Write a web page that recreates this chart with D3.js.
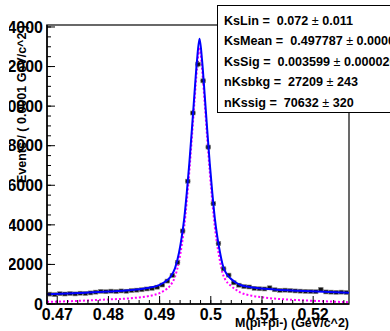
<!DOCTYPE html>
<html>
<head>
<meta charset="utf-8">
<script src="https://cdn.jsdelivr.net/npm/d3@7/dist/d3.min.js"></script>
<style>
  html, body { margin: 0; padding: 0; background: #fff; }
  svg { display: block; font-family: "Liberation Sans", Arial, sans-serif; }
</style>
</head>
<body>
<div id="chart"></div>
<script>
// histogram bins (centre in GeV/c^2) and entries
var binCenters = [0.4685, 0.4695, 0.4705, 0.4715, 0.4725, 0.4735, 0.4745, 0.4755, 0.4765, 0.4775,
    0.4785, 0.4795, 0.4805, 0.4815, 0.4825, 0.4835, 0.4845, 0.4855, 0.4865, 0.4875,
    0.4885, 0.4895, 0.4905, 0.4915, 0.4925, 0.4935, 0.4945, 0.4955, 0.4965, 0.4975,
    0.4985, 0.4995, 0.5005, 0.5015, 0.5025, 0.5035, 0.5045, 0.5055, 0.5065, 0.5075,
    0.5085, 0.5095, 0.5105, 0.5115, 0.5125, 0.5135, 0.5145, 0.5155, 0.5165, 0.5175,
    0.5185, 0.5195, 0.5205, 0.5215, 0.5225, 0.5235, 0.5245, 0.5255, 0.5265];
var binCounts = [500, 470, 520, 505, 530, 510, 545, 530, 560, 600,
    640, 620, 650, 630, 660, 645, 680, 700, 720, 760,
    790, 850, 960, 1158, 1445, 2100, 3691, 6208, 9653, 12120,
    11279, 7931, 5070, 3061, 1777, 1460, 1072, 950, 880, 860,
    790, 770, 760, 820, 720, 690, 700, 680, 660, 650,
    640, 630, 620, 740, 610, 600, 590, 600, 580];

// fit curves sampled along the mass axis
var fitMass = [0.468, 0.472, 0.476, 0.480, 0.484, 0.486, 0.488, 0.490, 0.491, 0.492,
    0.493, 0.4938, 0.4943, 0.4948, 0.4953, 0.4958, 0.4963, 0.4968, 0.4973, 0.4978,
    0.4983, 0.4988, 0.4993, 0.4998, 0.5003, 0.5008, 0.5013, 0.5018, 0.5023, 0.5028,
    0.5038, 0.5048, 0.5058, 0.5078, 0.510, 0.513, 0.517, 0.522, 0.527];
var fitTotal = [488, 525, 575, 630, 690, 745, 820, 970, 1110, 1330,
    1800, 2600, 3350, 4300, 5600, 7100, 8800, 10600, 12300, 13400,
    12300, 10600, 8800, 7100, 5600, 4300, 3350, 2600, 2000, 1650,
    1300, 1100, 960, 850, 780, 720, 670, 615, 570];
var fitSignal = [108, 138, 181, 230, 283, 334, 406, 553, 691, 909,
    1378, 2176, 2925, 3874, 5173, 6673, 8372, 10171, 11870, 12969,
    11868, 10167, 8366, 6666, 5165, 3864, 2913, 2162, 1561, 1250,
    950, 740, 580, 430, 340, 260, 200, 140, 90];

var xTickValues = [0.47, 0.48, 0.49, 0.50, 0.51, 0.52];
var yTickValues = [0, 2000, 4000, 6000, 8000, 10000, 12000, 14000];

var paramNames = ["KsLin", "KsMean", "KsSig", "nKsbkg", "nKssig"];
var paramValues = ["0.072", "0.497787", "0.003599", "27209", "70632"];
var paramErrors = ["0.011", "0.000016", "0.000020", "243", "320"];

function init() {
    var w = 390;
    var h = 331;
    var frame = { left: 47, right: 349, top: 25, bottom: 304 };
    var binWidth = 0.001;

    var xScale = d3.scaleLinear().domain([0.468, 0.527]).range([frame.left, frame.right]);
    var yScale = d3.scaleLinear().domain([0, 14100]).range([frame.bottom, frame.top]);

    var svg = d3.select("#chart")
        .append("svg")
        .attr("width", w)
        .attr("height", h);

    var defs = svg.append("defs");
    defs.append("clipPath").attr("id", "plotClip")
        .append("rect")
        .attr("x", frame.left).attr("y", frame.top)
        .attr("width", frame.right - frame.left)
        .attr("height", frame.bottom - frame.top);
    // the leading "1" of the 5-digit labels falls off the canvas in the original
    defs.append("clipPath").attr("id", "labelClip")
        .append("rect")
        .attr("x", 9).attr("y", 0).attr("width", w).attr("height", h);

    // frame (top and right edges)
    svg.append("rect")
        .attr("x", frame.left)
        .attr("y", frame.top)
        .attr("width", frame.right - frame.left)
        .attr("height", frame.bottom - frame.top)
        .attr("fill", "none")
        .attr("stroke", "#444")
        .attr("stroke-width", 1.6);

    var plot = svg.append("g").attr("clip-path", "url(#plotClip)");

    // curves
    var fitPoints = fitMass.map((m, i) => ({ m: m, total: fitTotal[i], sig: fitSignal[i] }));

    var sigLine = d3.line()
        .x(d => xScale(d.m))
        .y(d => yScale(d.sig))
        .curve(d3.curveMonotoneX);
    var totLine = d3.line()
        .x(d => xScale(d.m))
        .y(d => yScale(d.total))
        .curve(d3.curveMonotoneX);

    plot.append("path")
        .datum(fitPoints)
        .attr("fill", "none")
        .attr("stroke", "#ff00ff")
        .attr("stroke-width", 2)
        .attr("stroke-dasharray", "2,2")
        .attr("d", sigLine);

    // data points with error bars
    var bins = binCenters.map((c, i) => ({ c: c, n: binCounts[i] }));
    var pts = plot.selectAll(".bin").data(bins).enter().append("g").attr("class", "bin");

    pts.append("line")
        .attr("x1", d => xScale(d.c - binWidth / 2))
        .attr("x2", d => xScale(d.c + binWidth / 2))
        .attr("y1", d => yScale(d.n))
        .attr("y2", d => yScale(d.n))
        .attr("stroke", "#000")
        .attr("stroke-width", 1);
    pts.append("line")
        .attr("x1", d => xScale(d.c))
        .attr("x2", d => xScale(d.c))
        .attr("y1", d => yScale(d.n - Math.sqrt(d.n)) + 1)
        .attr("y2", d => yScale(d.n + Math.sqrt(d.n)) - 1)
        .attr("stroke", "#000")
        .attr("stroke-width", 1);

    plot.append("path")
        .datum(fitPoints)
        .attr("fill", "none")
        .attr("stroke", "#0000ff")
        .attr("stroke-width", 2)
        .attr("d", totLine);

    pts.append("rect")
        .attr("x", d => xScale(d.c) - 2.25)
        .attr("y", d => yScale(d.n) - 2)
        .attr("width", 4.5)
        .attr("height", 4)
        .attr("fill", "#111")
        .attr("stroke", "#888")
        .attr("stroke-width", 0.6);

    // x axis, ROOT style: ticks pointing into the frame
    var xMinor = d3.range(0.468, 0.5271, 0.002);
    var gx = svg.append("g");
    gx.append("line")
        .attr("x1", frame.left).attr("x2", frame.right)
        .attr("y1", frame.bottom).attr("y2", frame.bottom)
        .attr("stroke", "#000").attr("stroke-width", 1.5);
    gx.selectAll(".minor").data(xMinor).enter().append("line")
        .attr("x1", d => xScale(d)).attr("x2", d => xScale(d))
        .attr("y1", frame.bottom).attr("y2", frame.bottom - 4)
        .attr("stroke", "#000");
    gx.selectAll(".major").data(xTickValues).enter().append("line")
        .attr("x1", d => xScale(d)).attr("x2", d => xScale(d))
        .attr("y1", frame.bottom).attr("y2", frame.bottom - 8)
        .attr("stroke", "#000");
    gx.selectAll("text").data(xTickValues).enter().append("text")
        .attr("x", d => xScale(d))
        .attr("y", 320)
        .attr("text-anchor", "middle")
        .attr("font-size", 16)
        .attr("font-weight", "bold")
        .text(d => d3.format("")(+d.toFixed(2)));

    // y axis
    var yMinor = d3.range(0, 14001, 500);
    var gy = svg.append("g");
    gy.append("line")
        .attr("x1", frame.left).attr("x2", frame.left)
        .attr("y1", frame.top).attr("y2", frame.bottom)
        .attr("stroke", "#000").attr("stroke-width", 1.5);
    gy.selectAll(".minor").data(yMinor).enter().append("line")
        .attr("x1", frame.left).attr("x2", frame.left + 4)
        .attr("y1", d => yScale(d)).attr("y2", d => yScale(d))
        .attr("stroke", "#000");
    gy.selectAll(".major").data(yTickValues).enter().append("line")
        .attr("x1", frame.left).attr("x2", frame.left + 8)
        .attr("y1", d => yScale(d)).attr("y2", d => yScale(d))
        .attr("stroke", "#000");
    gy.append("g").attr("clip-path", "url(#labelClip)")
        .selectAll("text").data(yTickValues).enter().append("text")
        .attr("x", 43)
        .attr("y", d => yScale(d))
        .attr("dy", "0.36em")
        .attr("text-anchor", "end")
        .attr("font-size", 16)
        .attr("font-weight", "bold")
        .text(d => d);

    // axis titles
    svg.append("text")
        .attr("x", frame.right)
        .attr("y", 327)
        .attr("text-anchor", "end")
        .attr("font-size", 12.5)
        .attr("font-weight", "bold")
        .text("M(pi+pi-) (GeV/c^2)");

    svg.append("text")
        .attr("transform", "translate(26," + frame.top + ") rotate(-90)")
        .attr("text-anchor", "end")
        .attr("font-size", 12.5)
        .attr("font-weight", "bold")
        .text("Events / ( 0.0001 GeV/c^2 )");

    // fit parameter box
    var box = svg.append("g");
    box.append("rect")
        .attr("x", 217.5)
        .attr("y", 5.5)
        .attr("width", 200)
        .attr("height", 107)
        .attr("fill", "#fff")
        .attr("stroke", "#000")
        .attr("stroke-width", 1);

    paramNames.forEach(function(name, i) {
        var t = box.append("text")
            .attr("x", 224)
            .attr("y", 20 + i * 20.5)
            .attr("dy", "0.36em")
            .attr("font-size", 12.6)
            .attr("font-weight", "bold")
            .attr("xml:space", "preserve");
        t.append("tspan").text(name + " =  " + paramValues[i]);
        t.append("tspan").attr("font-weight", "normal").text(" \u00b1 ");
        t.append("tspan").text(paramErrors[i]);
    });
}

window.onload = init;
</script>
</body>
</html>
